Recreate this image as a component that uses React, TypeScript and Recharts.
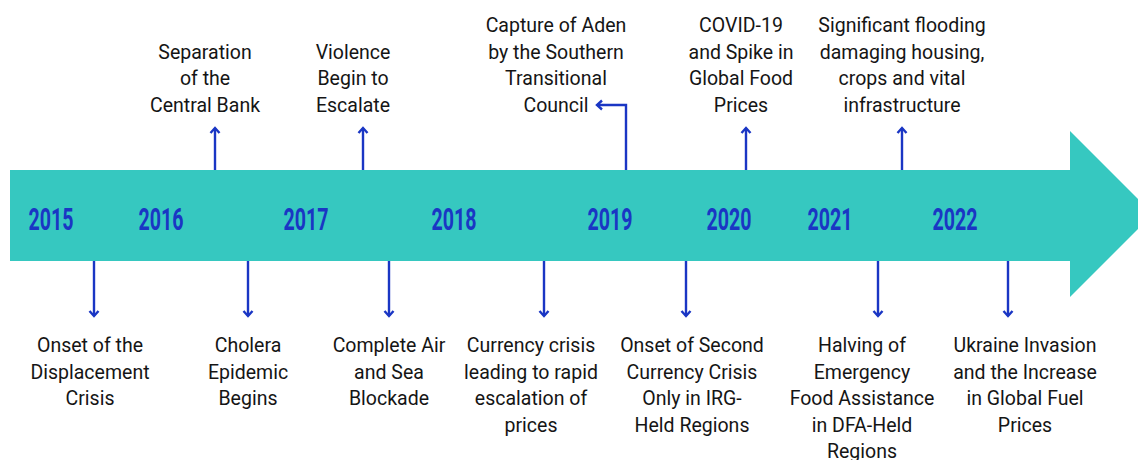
import React from 'react';
import { ComposedChart, XAxis, YAxis, Scatter, ReferenceArea } from 'recharts';

// timeline data, positions are slots along the arrow
const years = ['2015', '2016', '2017', '2018', '2019', '2020', '2021', '2022'];
const yearPos = [51, 161, 306, 454, 610, 729, 830, 955];

const aboveEvents = [
  ['Separation', 'of the', 'Central Bank'],
  ['Violence', 'Begin to', 'Escalate'],
  ['Capture of Aden', 'by the Southern', 'Transitional', 'Council'],
  ['COVID-19', 'and Spike in', 'Global Food', 'Prices'],
  ['Significant flooding', 'damaging housing,', 'crops and vital', 'infrastructure'],
];
const aboveArrowPos = [215, 363, 626, 746, 902];
const aboveLabelPos = [205, 353, 556, 741, 902];

const belowEvents = [
  ['Onset of the', 'Displacement', 'Crisis'],
  ['Cholera', 'Epidemic', 'Begins'],
  ['Complete Air', 'and Sea', 'Blockade'],
  ['Currency crisis', 'leading to rapid', 'escalation of', 'prices'],
  ['Onset of Second', 'Currency Crisis', 'Only in IRG-', 'Held Regions'],
  ['Halving of', 'Emergency', 'Food Assistance', 'in DFA-Held', 'Regions'],
  ['Ukraine Invasion', 'and the Increase', 'in Global Fuel', 'Prices'],
];
const belowArrowPos = [94, 248, 389, 544, 686, 878, 1008];
const belowLabelPos = [90, 248, 389, 531, 692, 862, 1025];

// layout (y axis runs top -> bottom)
const BAND_START = 10;
const HEAD_START = 1070;
const TIP = 1153;
const BAND_TOP = 170;
const BAND_BOTTOM = 261;
const HEAD_TOP = 131;
const HEAD_BOTTOM = 297;
const ABOVE_BASELINE = 112;
const BELOW_BASELINE = 352;
const LINE_H = 26.6;

const TEAL = '#36c8c0';
const BLUE = '#1a36c4';
const FONT = 'Roboto, "Liberation Sans", sans-serif';
const NARROW = 0.93;
const BENT = 'Capture of Aden';

const ArrowHead = (props: any) => {
  const { x, y, width, height } = props;
  return (
    <polygon
      points={`${x},${y} ${x + width},${y + height / 2} ${x},${y + height}`}
      fill={TEAL}
    />
  );
};

const UpStem = ({ cx, cy, payload }: any) => {
  if (payload.lines[0] === BENT) {
    const top = cy - 65;
    const left = cx - 29;
    return (
      <g fill="none" stroke={BLUE} strokeWidth={2.4}>
        <path d={`M${cx},${cy} V${top} H${left}`} />
        <polyline points={`${left + 5},${top - 4.5} ${left},${top} ${left + 5},${top + 4.5}`} />
      </g>
    );
  }
  const top = cy - 42;
  return (
    <g fill="none" stroke={BLUE} strokeWidth={2.4}>
      <line x1={cx} y1={cy} x2={cx} y2={top} />
      <polyline points={`${cx - 4.5},${top + 5} ${cx},${top} ${cx + 4.5},${top + 5}`} />
    </g>
  );
};

const DownStem = ({ cx, cy }: any) => {
  const bottom = cy + 55;
  return (
    <g fill="none" stroke={BLUE} strokeWidth={2.4}>
      <line x1={cx} y1={cy} x2={cx} y2={bottom} />
      <polyline points={`${cx - 4.5},${bottom - 5} ${cx},${bottom} ${cx + 4.5},${bottom - 5}`} />
    </g>
  );
};

// multi-line label, squeezed a little to look like a condensed face
const MultiLine = ({ cx, firstY, lines }: any) => (
  <text
    transform={`translate(${cx} 0) scale(${NARROW} 1)`}
    textAnchor="middle"
    fontFamily={FONT}
    fontSize={21}
    fill="#151515"
  >
    {lines.map((l: string, i: number) => (
      <tspan key={i} x={0} y={firstY + i * LINE_H}>{l}</tspan>
    ))}
  </text>
);

const LabelAbove = ({ cx, cy, payload }: any) => (
  <MultiLine cx={cx} firstY={cy - (payload.lines.length - 1) * LINE_H} lines={payload.lines} />
);

const LabelBelow = ({ cx, cy, payload }: any) => (
  <MultiLine cx={cx} firstY={cy} lines={payload.lines} />
);

const YearLabel = ({ cx, cy, payload }: any) => (
  <text
    x={cx}
    y={cy}
    textAnchor="middle"
    fontFamily={FONT}
    fontWeight={700}
    fontSize={32}
    textLength={45}
    lengthAdjust="spacingAndGlyphs"
    fill={BLUE}
  >
    {payload.year}
  </text>
);

export default function App() {
  const yearRows = years.map((year, i) => ({ pos: yearPos[i], y: 230, year }));
  const upStems = aboveEvents.map((lines, i) => ({ pos: aboveArrowPos[i], y: BAND_TOP, lines }));
  const upLabels = aboveEvents.map((lines, i) => ({ pos: aboveLabelPos[i], y: ABOVE_BASELINE, lines }));
  const downStems = belowEvents.map((lines, i) => ({ pos: belowArrowPos[i], y: BAND_BOTTOM, lines }));
  const downLabels = belowEvents.map((lines, i) => ({ pos: belowLabelPos[i], y: BELOW_BASELINE, lines }));

  return (
    <div style={{ position: 'absolute', left: 0, top: 0, width: 1138, height: 460, overflow: 'hidden', background: '#fff' }}>
      <ComposedChart width={1160} height={460} margin={{ top: 0, right: 0, bottom: 0, left: 0 }}>
        <XAxis type="number" dataKey="pos" domain={[0, 1160]} hide />
        <YAxis type="number" dataKey="y" domain={[0, 460]} reversed hide />
        <ReferenceArea x1={BAND_START} x2={HEAD_START + 1} y1={BAND_TOP} y2={BAND_BOTTOM} fill={TEAL} fillOpacity={1} stroke="none" />
        <ReferenceArea x1={HEAD_START} x2={TIP} y1={HEAD_TOP} y2={HEAD_BOTTOM} shape={ArrowHead} />
        <Scatter data={yearRows} shape={YearLabel} isAnimationActive={false} />
        <Scatter data={upStems} shape={UpStem} isAnimationActive={false} />
        <Scatter data={upLabels} shape={LabelAbove} isAnimationActive={false} />
        <Scatter data={downStems} shape={DownStem} isAnimationActive={false} />
        <Scatter data={downLabels} shape={LabelBelow} isAnimationActive={false} />
      </ComposedChart>
    </div>
  );
}
